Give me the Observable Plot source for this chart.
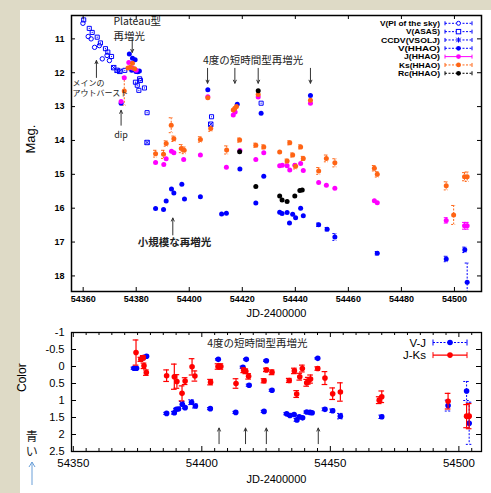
<!DOCTYPE html>
<html><head><meta charset="utf-8">
<script src="https://cdn.jsdelivr.net/npm/d3@7"></script>
<script src="https://cdn.jsdelivr.net/npm/@observablehq/plot@0.6"></script>
<style>
html,body{margin:0;padding:0;}
body{width:491px;height:493px;background:#dedac6;position:relative;overflow:hidden;font-family:"Liberation Sans",Arial,sans-serif;}
#panel{position:absolute;left:20px;top:10px;width:471px;height:483px;background:#fff;}
#top,#bot{position:absolute;left:0;}
#top{top:0px;}
#bot{top:320px;}
svg{overflow:visible;}
</style></head><body>
<div id="panel"></div>
<div id="top"></div><div id="bot"></div>
<script>
// ---------------- DATA (top panel: magnitudes) ----------------
const piDay = [54359.9, 54361.9, 54363.0, 54364.3, 54366.1, 54367.2, 54369.0, 54369.9];
const piMag = [10.54, 10.93, 11.00, 11.25, 11.20, 11.59, 11.49, 11.64];

const asasDay = [54360.2, 54362.3, 54363.4, 54365.3, 54366.5, 54368.4, 54369.3, 54370.7, 54375.7, 54379.7, 54380.4, 54381.0, 54381.3, 54381.6, 54383.1, 54384.1, 54408.4, 54427.1];
const asasMag = [10.44, 10.69, 10.81, 10.95, 11.12, 11.29, 11.39, 11.52, 11.93, 12.28, 12.37, 12.52, 12.18, 12.23, 12.45, 13.18, 13.30, 12.90];

const vsoljDay = [54371.5, 54372.8, 54373.8, 54384.1, 54408.1];
const vsoljMag = [11.85, 11.93, 11.96, 14.06, 13.52];

const vDay = [54374.3, 54377.4, 54378.6, 54379.6, 54378.3, 54379.9, 54380.6, 54381.2, 54387.3, 54390.3, 54391.3, 54393.3, 54394.2, 54397.2, 54398.2, 54404.2, 54407.0, 54412.2, 54414.0, 54418.1, 54419.1, 54425.1, 54427.1, 54428.1, 54434.1, 54435.0, 54436.9, 54437.8, 54439.0, 54440.1, 54442.0, 54443.0, 54445.7, 54448.8, 54452.0, 54454.9, 54470.9, 54496.9, 54503.9, 54504.8];
const vMag = [12.90, 11.45, 11.57, 11.62, 11.93, 11.96, 11.97, 11.95, 16.01, 16.04, 15.79, 15.43, 15.55, 15.29, 15.73, 15.66, 12.50, 16.17, 16.15, 12.93, 14.84, 15.85, 13.20, 15.06, 16.12, 16.16, 16.13, 16.44, 16.18, 16.28, 16.00, 16.22, 12.67, 16.49, 16.62, 16.85, 17.33, 17.50, 17.23, 18.19];
const vErr = [0.03, 0.02, 0.02, 0.02, 0.02, 0.02, 0.02, 0.02, 0.04, 0.04, 0.04, 0.04, 0.04, 0.04, 0.04, 0.04, 0.02, 0.04, 0.04, 0.02, 0.03, 0.04, 0.03, 0.03, 0.04, 0.04, 0.04, 0.04, 0.04, 0.04, 0.04, 0.04, 0.02, 0.05, 0.05, 0.10, 0.05, 0.08, 0.08, 0.57];

const jDay = [54374.3, 54375.5, 54377.2, 54378.5, 54380.0, 54387.3, 54390.4, 54391.3, 54393.3, 54394.2, 54397.9, 54404.2, 54407.0, 54414.0, 54416.6, 54417.3, 54419.1, 54425.1, 54426.0, 54428.1, 54434.1, 54435.1, 54436.9, 54437.9, 54439.8, 54442.0, 54443.0, 54445.7, 54448.8, 54451.7, 54454.9, 54469.8, 54470.9, 54496.9, 54503.8, 54504.8];
const jMag = [12.85, 12.15, 11.70, 11.86, 11.93, 14.65, 14.71, 14.54, 14.32, 14.36, 14.56, 14.43, 12.71, 14.79, 13.25, 13.16, 14.30, 14.56, 12.72, 14.36, 14.75, 14.73, 14.75, 14.87, 14.73, 14.68, 14.89, 12.90, 15.24, 15.32, 15.41, 15.78, 15.84, 16.36, 16.52, 16.52];
const jErr = [0.02, 0.02, 0.02, 0.02, 0.02, 0.03, 0.03, 0.03, 0.03, 0.03, 0.03, 0.03, 0.02, 0.03, 0.02, 0.02, 0.03, 0.03, 0.02, 0.03, 0.03, 0.03, 0.03, 0.03, 0.03, 0.03, 0.03, 0.02, 0.03, 0.03, 0.03, 0.04, 0.04, 0.08, 0.10, 0.10];

const kDay = [54375.5, 54376.9, 54377.8, 54378.6, 54379.4, 54387.3, 54390.3, 54391.3, 54393.2, 54394.2, 54397.0, 54398.1, 54404.2, 54407.0, 54408.1, 54414.1, 54416.6, 54417.2, 54417.8, 54419.0, 54425.1, 54426.0, 54428.1, 54434.1, 54436.9, 54437.9, 54439.0, 54440.1, 54442.0, 54443.0, 54445.7, 54448.8, 54451.7, 54454.9, 54469.8, 54470.9, 54496.9, 54499.7, 54503.8, 54504.8];
const kMag = [12.54, 11.86, 11.84, 11.72, 11.88, 14.39, 14.41, 14.09, 13.55, 13.95, 14.24, 14.29, 13.97, 12.74, 13.65, 14.28, 13.10, 13.05, 13.00, 13.99, 14.14, 12.64, 14.19, 14.34, 14.61, 14.07, 14.43, 14.76, 14.19, 14.53, 12.81, 14.90, 14.53, 14.66, 14.82, 15.00, 15.34, 16.20, 15.07, 15.07];
const kErr = [0.42, 0.03, 0.03, 0.03, 0.03, 0.10, 0.12, 0.08, 0.22, 0.08, 0.12, 0.10, 0.08, 0.03, 0.08, 0.12, 0.04, 0.04, 0.04, 0.06, 0.06, 0.03, 0.06, 0.05, 0.06, 0.06, 0.06, 0.08, 0.06, 0.06, 0.04, 0.10, 0.10, 0.12, 0.08, 0.08, 0.12, 0.28, 0.12, 0.14];

const rDay = [54419.0, 54425.1, 54426.0, 54434.1, 54435.0, 54436.9, 54439.8, 54441.7, 54442.6];
const rMag = [14.33, 15.36, 12.53, 15.64, 15.76, 15.80, 15.64, 15.48, 15.46];

// ---------------- DATA (bottom panel: colours) ----------------
const vjDay = [54373.6, 54374.6, 54377.2, 54378.5, 54386.3, 54389.3, 54390.1, 54390.9, 54392.4, 54393.5, 54396.0, 54397.5, 54403.3, 54406.4, 54413.2, 54416.0, 54417.3, 54418.4, 54424.2, 54425.1, 54427.3, 54433.0, 54434.3, 54435.9, 54437.0, 54437.9, 54439.2, 54440.8, 54442.1, 54442.9, 54445.1, 54447.9, 54450.9, 54453.9, 54470.0, 54495.8, 54503.0, 54504.0];
const vj = [0.05, 0.05, -0.26, -0.30, 1.38, 1.36, 1.26, 1.25, 1.11, 1.21, 1.05, 1.16, 1.24, -0.21, 1.35, 0.02, -0.21, 0.55, 1.32, -0.17, 0.70, 1.39, 1.44, 1.41, 1.57, 1.48, 1.51, 1.34, 1.35, 1.36, -0.24, 1.26, 1.30, 1.46, 1.48, 1.15, 0.72, 1.67];
const vjErr = [0.03, 0.03, 0.03, 0.03, 0.03, 0.04, 0.03, 0.03, 0.08, 0.03, 0.07, 0.06, 0.03, 0.02, 0.03, 0.03, 0.02, 0.03, 0.03, 0.02, 0.03, 0.03, 0.03, 0.03, 0.04, 0.03, 0.03, 0.03, 0.03, 0.03, 0.02, 0.04, 0.05, 0.08, 0.05, 0.16, 0.28, 0.62];

const jkDay = [54374.4, 54376.3, 54377.2, 54377.5, 54378.4, 54386.3, 54389.3, 54390.3, 54392.3, 54393.5, 54396.2, 54397.3, 54403.4, 54406.3, 54407.4, 54413.3, 54416.3, 54417.1, 54418.2, 54424.2, 54425.1, 54427.3, 54434.0, 54436.0, 54436.9, 54438.1, 54439.1, 54440.8, 54441.4, 54442.3, 54445.1, 54447.9, 54450.9, 54453.9, 54469.0, 54470.0, 54495.8, 54503.0, 54504.0];
const jk = [-0.41, -0.21, -0.26, -0.02, 0.18, 0.27, 0.30, 0.44, 0.79, 0.43, 0.01, 0.28, 0.46, 0.0, 0.0, 0.50, 0.11, 0.14, 0.29, 0.42, 0.10, 0.17, 0.41, 0.13, 0.81, 0.30, 0.06, 0.48, 0.42, 0.37, 0.06, 0.34, 0.80, 0.75, 0.99, 0.89, 1.02, 1.46, 1.46];
const jkErr = [0.37, 0.06, 0.06, 0.08, 0.08, 0.17, 0.37, 0.20, 0.22, 0.10, 0.24, 0.15, 0.08, 0.08, 0.08, 0.14, 0.07, 0.07, 0.08, 0.06, 0.05, 0.07, 0.06, 0.08, 0.10, 0.10, 0.10, 0.10, 0.10, 0.12, 0.05, 0.19, 0.17, 0.27, 0.10, 0.17, 0.23, 0.34, 0.37];

// ---------------- tick labels & legend text ----------------
const topXTicks = [54360, 54380, 54400, 54420, 54440, 54460, 54480, 54500];
const topYTicks = [11, 12, 13, 14, 15, 16, 17, 18];
const botXTicks = [54350, 54400, 54450, 54500];
const botXMinor = [54355,54360,54365,54370,54375,54380,54385,54390,54395,54405,54410,54415,54420,54425,54430,54435,54440,54445,54455,54460,54465,54470,54475,54480,54485,54490,54495,54505];
const botYTicks = [-1, -0.5, 0, 0.5, 1, 1.5, 2, 2.5];
const topLegend = ["V(PI of the sky)", "V(ASAS)", "CCDV(VSOLJ)", "V(HHAO)", "J(HHAO)", "Ks(HHAO)", "Rc(HHAO)"];
const botLegend = ["V-J", "J-Ks"];

// ---------------- annotations (layout) ----------------
const topNotes = [
  {x: 54371.4, y: 10.50, t: "Plateau型", a: "start", s: 10.5, w: "normal"},
  {x: 54371.4, y: 10.93, t: "再増光", a: "start", s: 10.5, w: "normal"},
  {x: 54356.0, y: 12.31, t: "メインの", a: "start", s: 8, w: "normal"},
  {x: 54356.0, y: 12.61, t: "アウトバースト", a: "start", s: 8, w: "normal"},
  {x: 54374.3, y: 13.84, t: "dip", a: "middle", s: 9, w: "normal"},
  {x: 54405.2, y: 11.64, t: "4度の短時間型再増光", a: "start", s: 10.5, w: "normal"},
  {x: 54394.4, y: 17.01, t: "小規模な再増光", a: "middle", s: 10.5, w: "bold"}
];
const topArrows = [
  {x: 54378.5, y1: 11.02, y2: 11.40},
  {x: 54365.0, y1: 12.14, y2: 11.64},
  {x: 54374.3, y1: 13.55, y2: 13.11},
  {x: 54406.9, y1: 11.87, y2: 12.31},
  {x: 54417.2, y1: 11.87, y2: 12.31},
  {x: 54426.0, y1: 11.87, y2: 12.31},
  {x: 54445.7, y1: 11.87, y2: 12.31},
  {x: 54393.8, y1: 16.79, y2: 16.29}
];
const botArrows = [54406.7, 54417.0, 54425.1, 54445.3];

// ---------------- helpers ----------------
const BLUE = "#0000ff", MAGENTA = "#ff00ff", ORANGE = "#ff6414", RED = "#ff0000", BLACK = "#000";
const rows = (days, vals, errs) => days.map((d, i) => ({day: d, val: vals[i], err: errs ? errs[i] : 0}));
const fmt = d => String(d);
const FONT = "Liberation Sans, Arial, sans-serif";
const JFONT = "Noto Sans CJK JP, sans-serif";

const pi = rows(piDay, piMag), asas = rows(asasDay, asasMag), vsolj = rows(vsoljDay, vsoljMag);
const vH = rows(vDay, vMag, vErr), jH = rows(jDay, jMag, jErr), kH = rows(kDay, kMag, kErr), rH = rows(rDay, rMag);
const vjR = rows(vjDay, vj, vjErr), jkR = rows(jkDay, jk, jkErr);

function errBars(data, color, cap, dash, width) {
  const o = {stroke: color, strokeWidth: width || 1, strokeDasharray: dash, clip: true};
  return [
    Plot.ruleX(data, {...o, x: "day", y1: d => d.val - d.err, y2: d => d.val + d.err}),
    Plot.ruleY(data, {...o, y: d => d.val - d.err, x1: d => d.day - cap, x2: d => d.day + cap}),
    Plot.ruleY(data, {...o, y: d => d.val + d.err, x1: d => d.day - cap, x2: d => d.day + cap})
  ];
}

// ---------------- TOP PANEL ----------------
const TOPH = 322, TMT = 15, TMB = 31, TFH = TOPH - TMT - TMB;
const topPlot = Plot.plot({
  width: 491, height: TOPH,
  marginLeft: 71, marginRight: 10, marginTop: TMT, marginBottom: TMB,
  style: {background: "transparent", overflow: "visible", fontFamily: FONT},
  x: {domain: [54355.6, 54510.2], axis: null},
  y: {domain: [10.31, 18.46], reverse: true, axis: null},
  marks: [
    ...errBars(vH.filter(d => d.err > 0.045), BLUE, 0.75, "2,1.5"),
    ...errBars(jH.filter(d => d.err > 0.05), MAGENTA, 0.75, null),
    ...errBars(kH.filter(d => d.err > 0.05), ORANGE, 0.75, "2,1.5"),
    Plot.dot(pi, {x: "day", y: "val", r: 2.2, stroke: BLUE, strokeWidth: 1, fill: "none"}),
    Plot.dot(asas, {x: "day", y: "val", r: 2.3, symbol: "square", stroke: BLUE, strokeWidth: 1, fill: "none"}),
    Plot.dot(asas, {x: "day", y: "val", r: 0.6, fill: BLUE}),
    Plot.dot(vsolj, {x: "day", y: "val", r: 2.5, symbol: "square", stroke: BLUE, strokeWidth: 1, fill: "none"}),
    Plot.dot(vsolj, {x: "day", y: "val", r: 2.2, symbol: "times", stroke: BLUE, strokeWidth: 1}),
    Plot.dot(vH, {x: "day", y: "val", r: 2.5, fill: BLUE}),
    Plot.dot(jH, {x: "day", y: "val", r: 2.5, fill: MAGENTA}),
    Plot.dot(kH, {x: "day", y: "val", r: 2.5, fill: ORANGE}),
    Plot.dot(rH, {x: "day", y: "val", r: 2.5, fill: BLACK}),
    // annotations
    Plot.arrow(topArrows, {x1: "x", x2: "x", y1: "y1", y2: "y2", stroke: "#333", strokeWidth: 1, headLength: 5, headAngle: 50}),
    ...topNotes.map(n => Plot.text([n], {x: "x", y: "y", text: "t", textAnchor: n.a, fontSize: n.s, fontWeight: n.w, fontFamily: JFONT, fill: "#222"})),
    // frame, ticks, labels
    Plot.frame({stroke: BLACK, strokeWidth: 1.5}),
    Plot.ruleX(topXTicks, {x: d => d, insetTop: TFH - 4, stroke: BLACK}),
    Plot.ruleX(topXTicks, {x: d => d, insetBottom: TFH - 4, stroke: BLACK}),
    Plot.ruleY(topYTicks, {y: d => d, insetRight: 406, stroke: BLACK}),
    Plot.ruleY(topYTicks, {y: d => d, insetLeft: 406, stroke: BLACK}),
    Plot.text(topXTicks, {x: d => d, text: fmt, frameAnchor: "bottom", dy: 10, fontWeight: "bold", fontSize: 9}),
    Plot.text(topYTicks, {y: d => d, text: fmt, frameAnchor: "left", dx: -7, textAnchor: "end", fontWeight: "bold", fontSize: 9}),
    Plot.text(["JD-2400000"], {frameAnchor: "bottom", dy: 25, fontSize: 11}),
    Plot.text(["Mag."], {frameAnchor: "left", dx: -41, rotate: -90, fontSize: 13})
  ]
});
document.getElementById("top").appendChild(topPlot);

// top legend
{
  const g = d3.select(topPlot).append("g").attr("font-family", FONT);
  const widths = [60, 34, 59, 42, 36, 41, 42];
  const cols = [BLUE, BLUE, BLUE, BLUE, MAGENTA, ORANGE, BLACK];
  topLegend.forEach((t, i) => {
    const y = 23.3 + 8.33 * i;
    g.append("text").attr("x", 440).attr("y", y).attr("dy", "0.35em").attr("text-anchor", "end")
      .attr("font-size", 8).attr("font-weight", "bold").attr("textLength", widths[i]).attr("lengthAdjust", "spacingAndGlyphs").text(t);
    const c = cols[i];
    g.append("line").attr("x1", 445).attr("x2", 472).attr("y1", y).attr("y2", y).attr("stroke", c)
      .attr("stroke-dasharray", i === 4 ? null : "2,1.5");
    [445, 472].forEach(x => g.append("line").attr("x1", x).attr("x2", x).attr("y1", y - 2).attr("y2", y + 2).attr("stroke", c));
    const cx = 458.5;
    if (i === 0) g.append("circle").attr("cx", cx).attr("cy", y).attr("r", 2).attr("fill", "#fff").attr("stroke", c);
    else if (i === 1) g.append("rect").attr("x", cx - 2.2).attr("y", y - 2.2).attr("width", 4.4).attr("height", 4.4).attr("fill", "#fff").attr("stroke", c);
    else if (i === 2) { g.append("path").attr("d", `M${cx-2.2},${y-2.2}L${cx+2.2},${y+2.2}M${cx-2.2},${y+2.2}L${cx+2.2},${y-2.2}M${cx},${y-2.6}V${y+2.6}`).attr("stroke", c); }
    else g.append("circle").attr("cx", cx).attr("cy", y).attr("r", 2.4).attr("fill", c);
  });
}

// ---------------- BOTTOM PANEL ----------------
const BOTH = 173, BMT = 12, BMB = 42, BFH = BOTH - BMT - BMB;
const botPlot = Plot.plot({
  width: 491, height: BOTH,
  marginLeft: 71, marginRight: 10, marginTop: BMT, marginBottom: BMB,
  style: {background: "transparent", overflow: "visible", fontFamily: FONT},
  x: {domain: [54349.3, 54508.8], axis: null},
  y: {domain: [-1, 2.5], reverse: true, axis: null},
  marks: [
    ...errBars(vjR, BLUE, 1.1, "2,1.5"),
    Plot.dot(vjR, {x: "day", y: "val", r: 2.8, fill: BLUE}),
    ...errBars(jkR, RED, 1.1, null, 1.2),
    Plot.dot(jkR, {x: "day", y: "val", r: 2.8, fill: RED}),
    Plot.text(["4度の短時間型再増光"], {x: [54402.1], y: [-0.68], textAnchor: "start", fontSize: 10.5, fontFamily: JFONT, fill: "#222"}),
    Plot.arrow(botArrows, {x1: d => d, x2: d => d, y1: 2.27, y2: 1.81, stroke: "#333", strokeWidth: 1, headLength: 5, headAngle: 50}),
    Plot.frame({stroke: BLACK, strokeWidth: 1.3}),
    Plot.ruleX(botXTicks, {x: d => d, insetTop: BFH - 5, stroke: BLACK}),
    Plot.ruleX(botXTicks, {x: d => d, insetBottom: BFH - 5, stroke: BLACK}),
    Plot.ruleX(botXMinor, {x: d => d, insetTop: BFH - 3, stroke: BLACK}),
    Plot.ruleX(botXMinor, {x: d => d, insetBottom: BFH - 3, stroke: BLACK}),
    Plot.ruleY(botYTicks, {y: d => d, insetRight: 405, stroke: BLACK}),
    Plot.ruleY(botYTicks, {y: d => d, insetLeft: 405, stroke: BLACK}),
    Plot.text(botXTicks, {x: d => d, text: fmt, frameAnchor: "bottom", dy: 15, fontSize: 11.5}),
    Plot.text(botYTicks, {y: d => d, text: fmt, frameAnchor: "left", dx: -7, textAnchor: "end", fontSize: 11}),
    Plot.text(["JD-2400000"], {frameAnchor: "bottom", dy: 31, fontSize: 11}),
    Plot.text(["Color"], {frameAnchor: "left", dx: -49, rotate: -90, fontSize: 12})
  ]
});
document.getElementById("bot").appendChild(botPlot);

// bottom legend + side note
{
  const g = d3.select(botPlot).append("g").attr("font-family", FONT);
  const cols = [BLUE, RED];
  botLegend.forEach((t, i) => {
    const y = 22.5 + 12.6 * i;
    g.append("text").attr("x", 426).attr("y", y).attr("dy", "0.35em").attr("text-anchor", "end").attr("font-size", 11.5).text(t);
    const c = cols[i];
    g.append("line").attr("x1", 433).attr("x2", 467).attr("y1", y).attr("y2", y).attr("stroke", c).attr("stroke-width", i ? 1.2 : 1)
      .attr("stroke-dasharray", i ? null : "2,1.5");
    [433, 467].forEach(x => g.append("line").attr("x1", x).attr("x2", x).attr("y1", y - 3).attr("y2", y + 3).attr("stroke", c));
    g.append("circle").attr("cx", 450).attr("cy", y).attr("r", 2.8).attr("fill", c);
  });
  const s = d3.select(botPlot).append("g").attr("font-family", JFONT).attr("font-size", 12).attr("fill", "#222");
  s.append("text").attr("x", 31.7).attr("y", 116.7).attr("dy", "0.35em").attr("text-anchor", "middle").text("青");
  s.append("text").attr("x", 31.7).attr("y", 132).attr("dy", "0.35em").attr("text-anchor", "middle").text("い");
  s.append("path").attr("d", "M32,165V142M29,147L32,142L35,147").attr("stroke", "#6a9fd8").attr("fill", "none").attr("stroke-width", 1);
}
</script></body></html>
